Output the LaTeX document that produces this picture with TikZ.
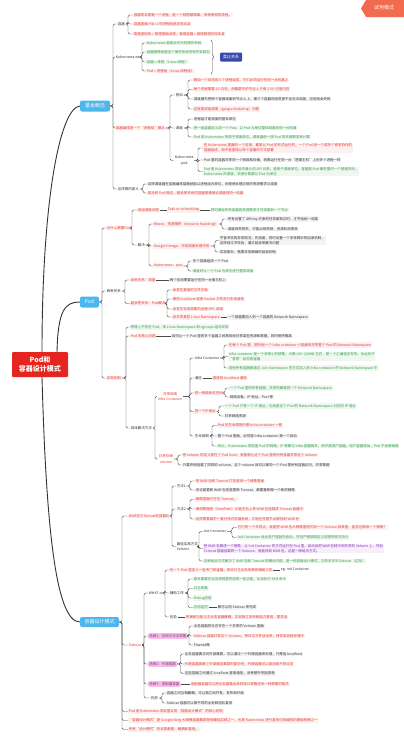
\documentclass[tikz,border=0pt]{standalone}
\usepackage{fontspec}
\newfontfamily\cjk{Noto Sans CJK SC}
\usetikzlibrary{decorations.pathreplacing}
\definecolor{myred}{HTML}{E8392E}
\definecolor{mygreen}{HTML}{2E9E44}
\definecolor{mydark}{HTML}{333333}
\definecolor{mypurple}{HTML}{8A2BB5}
\definecolor{redbg}{HTML}{FDF0F0}
\definecolor{greenbg}{HTML}{F0F7F0}
\definecolor{darkbg}{HTML}{F4F4F4}
\definecolor{purplebg}{HTML}{F6EEFA}
\definecolor{bluebox}{HTML}{4DB6EC}
\definecolor{rootred}{HTML}{E52620}
\definecolor{linec}{HTML}{4A4A4A}
\definecolor{pinkfill}{HTML}{F2C0E4}
\definecolor{pinktext}{HTML}{8E2C8E}
\definecolor{navy}{HTML}{3949AB}
\definecolor{badge}{HTML}{F26B4F}
\newcommand\fs{\cjk\fontsize{3.5pt}{5.2pt}\selectfont}
\newcommand\mytree[3]{\foreach \ch in {#3}{\draw[conn] (#1.east) -- (#2,0 |- #1.east) |- (\ch.west);}}
\newcommand\mylnk[2]{\draw[conn] (#1.east) -- (#2.west);}
\tikzset{
  base/.style={anchor=west, inner sep=0.7pt, font=\fs, align=left},
  rtx/.style={base, text=myred, fill=redbg},
  gtx/.style={base, text=mygreen, fill=greenbg},
  ktx/.style={base, text=mydark, fill=darkbg},
  ptx/.style={base, text=mypurple, fill=purplebg},
  lbl/.style={base, text=mydark},
  rlbl/.style={base, text=myred},
  pinkbox/.style={base, text=pinktext, fill=pinkfill, rounded corners=1pt, inner sep=1.2pt},
  mainbox/.style={fill=bluebox, text=white, font=\cjk\fontsize{5}{6}\selectfont, rounded corners=2pt, minimum height=11pt, inner sep=1pt},
  rootbox/.style={fill=rootred, text=white, font=\cjk\bfseries\fontsize{7}{9}\selectfont, minimum width=56pt, minimum height=25pt, align=center, rounded corners=1pt, inner sep=0pt},
  navybox/.style={fill=navy, text=white, font=\cjk\fontsize{4}{5}\selectfont, minimum width=22pt, minimum height=9pt, rounded corners=1pt, inner sep=0.5pt},
  conn/.style={draw=linec, line width=0.45pt, rounded corners=1.5pt},
  trunk/.style={draw=mydark, line width=0.9pt},
}
\begin{document}
\begin{tikzpicture}[x=1pt,y=-1pt]
\useasboundingbox (0,0) rectangle (404,744);
\fill[white] (0,0) rectangle (404,744);

% badge
\fill[badge] (366,0) -- (404,0) -- (404,17) -- (366,17) -- (361,8.5) -- cycle;
\node[font=\cjk\fontsize{5}{6}\selectfont, text=white, inner sep=0] (badgetxt) at (384,8) {试用模式};

% root and main branches
\node[rootbox] (root) at (40,364.5) {Pod和\\容器设计模式};
\node[mainbox, minimum width=30pt] (b1) at (95,106) {基本概念};
\node[mainbox, minimum width=19pt] (b2) at (89.5,302) {Pod};
\node[mainbox, minimum width=39pt, minimum height=10pt] (b3) at (99.5,622) {容器设计模式};
\draw[trunk] (root.north -| 42,0) .. controls (42,200) and (60,108) .. (b1.west);
\draw[trunk] (root.north -| 57,0) .. controls (58,310) and (65,302) .. (b2.west);
\draw[trunk] (root.south -| 42,0) .. controls (46,520) and (55,622) .. (b3.west);

% ===== 基本概念 =====
\node[lbl] (a1) at (117,24) {容器};
\node[rtx] (a11) at (133,15) {容器的本质是一个进程，是一个视图被隔离、资源受限的进程。};
\node[rtx] (a12) at (133,24) {容器里面 PID=1 的进程就是应用本身};
\node[rtx] (a13) at (133,34) {管理虚拟机 = 管理基础设施；管理容器 = 直接管理应用本身};
\mytree{a1}{128}{a11,a12,a13}

\node[lbl] (a2) at (115,57) {Kubernetes};
\node[gtx] (a21) at (146,43) {Kubernetes 就是云时代的操作系统};
\node[gtx] (a22) at (146,52) {容器镜像就是这个操作系统的软件安装包};
\node[gtx] (a23) at (146,62) {容器 = 进程（Linux 线程）};
\node[rtx] (a24) at (146,71) {Pod = 进程组（Linux 线程组）};
\mytree{a2}{142}{a21,a22,a23,a24}
\draw[linec, line width=0.45pt, decorate, decoration={brace, amplitude=2.5pt}] (211,40) -- (211,74);
\node[navybox] (a2b) at (231,57) {类比关系};

\node[rtx] (a3) at (115,128) {容器编排是一个“进程组”概念};
\node[lbl] (a31) at (175,95) {例如};
\node[rtx] (a311) at (193,80) {假如一个应用由三个进程组成，它们必须运行在同一台机器上};
\node[rtx] (a312) at (193,89.5) {每个进程需要 1G 内存，而集群中的节点 A 只有 2.5G 可用内存};
\node[ktx] (a313) at (193,99) {调度器先把两个容器调度到节点 A 上，第三个容器却因资源不足无法调度，应用就会失败};
\node[rtx] (a314) at (193,109) {这就是成组调度（gang scheduling）问题};
\mytree{a31}{188}{a311,a312,a313,a314}
\node[lbl] (a32) at (175,128) {调度};
\node[ktx] (a321) at (193,119) {进程组才是调度的基本单位};
\node[gtx] (a322) at (193,128) {把一组容器定义成一个 Pod，以 Pod 为单位整体调度到同一台机器};
\node[gtx] (a323) at (193,137) {Pod 是 Kubernetes 的原子调度单位，调度器统一按 Pod 的资源需求来计算};
\mytree{a32}{188}{a321,a322,a323}
\node[lbl, align=center] (a33) at (174,160.5) {Kubernetes\\pod};
\node[rtx] (a331) at (203,148) {在 Kubernetes 里面的一个应用，都是以 Pod 的形式运行的，一个 Pod 由一个或多个紧密协作的\\容器组成，而不是直接以单个容器的方式部署};
\node[ktx] (a332) at (203,160) {Pod 里的容器共享同一个网络和存储，就像运行在同一台“逻辑主机”上的多个进程一样};
\node[gtx] (a333) at (203,171.5) {Pod 是 Kubernetes 项目中最小的 API 对象，是原子调度单位；容器是 Pod 属性里的一个普通字段，\\Kubernetes 的调度、资源分配都以 Pod 为单位};
\mytree{a33}{198}{a331,a332,a333}
\mytree{a3}{170}{a31,a32,a33}

\node[lbl] (a4) at (117,189) {这样做的意义};
\node[ktx] (a41) at (147,184) {这样调度器在容器编排层面就能以进程组为单位，合理地处理应用的资源需求与调度};
\node[rtx] (a42) at (147,193) {若没有 Pod 概念，超亲密关系的容器很难保证调度到同一机器};
\mytree{a4}{143}{a41,a42}
\mytree{b1}{113}{a1,a2,a3,a4}

% ===== Pod =====
\node[rtx] (p1) at (106,228) {为什么需要Pod};
\node[rtx] (p11) at (137,210) {成组调度问题};
\node[rtx] (p111) at (167,210) {Task co-scheduling};
\node[gtx] (p112) at (210,210) {同时满足所有容器的资源需求才可调度到一个节点};
\mylnk{p11}{p111}
\mylnk{p111}{p112}
\node[lbl] (p12) at (137,245) {解决};
\node[rtx] (p121) at (153,224) {Mesos：资源囤积（resource hoarding）};
\node[ktx] (p1211) at (227,219) {所有设置了 Affinity 约束的任务都到达时，才开始统一调度};
\node[ktx] (p1212) at (227,229) {调度效率损失，可能出现死锁，资源利用率低};
\mytree{p121}{222}{p1211,p1212}
\node[rtx] (p122) at (153,246) {Google Omega：乐观调度处理冲突};
\node[ktx] (p1221) at (219,240.5) {不管冲突的异常情况，先调度，同时设置一个非常精妙的回滚机制，\\这样经过冲突后，通过回滚来解决问题};
\node[ktx] (p1222) at (219,252) {实现复杂，需要非常精细的回滚机制};
\mytree{p122}{215}{p1221,p1222}
\node[rtx] (p123) at (153,266) {Kubernetes：pod};
\node[ktx] (p1231) at (192,261) {多个容器组成一个 Pod};
\node[gtx] (p1232) at (192,271) {调度时以一个 Pod 为单位进行整体调度};
\mytree{p123}{188}{p1231,p1232}
\mytree{p12}{149}{p121,p122,p123}
\mytree{p1}{132}{p11,p12}

\node[lbl] (p2) at (106,291) {两种关系};
\node[rtx] (p21) at (130,280) {亲密关系：调度};
\node[ktx] (p211) at (169,280) {两个应用需要运行在同一台宿主机上};
\mylnk{p21}{p211}
\node[rtx] (p22) at (130,303.5) {超亲密关系：Pod解决};
\node[rtx] (p221) at (172,290) {会发生直接的文件交换};
\node[rtx] (p222) at (172,299) {使用 localhost 或者 Socket 文件进行本地通信};
\node[rtx] (p223) at (172,309) {会发生非常频繁的远程 RPC 调用};
\node[rtx] (p224) at (172,317) {会共享某些 Linux Namespace};
\node[ktx] (p2241) at (227,317) {一个容器要加入另一个容器的 Network Namespace};
\mylnk{p224}{p2241}
\mytree{p22}{167}{p221,p222,p223,p224}
\mytree{p2}{125}{p21,p22}

\node[rtx] (p3) at (106,378) {实现机制};
\node[gtx] (p31) at (130,327) {物理上不存在 Pod，由 Linux Namespace 和 cgroups 组合实现};
\node[rtx] (p32) at (130,336) {Pod 的核心问题};
\node[ktx] (p321) at (171,336) {如何让一个 Pod 里的多个容器之间高效地共享某些资源和数据，同时保持隔离};
\mylnk{p32}{p321}
\node[lbl] (p33) at (130,428) {具体解决方法};

\node[rlbl, align=center] (p331) at (157,396.5) {共享网络\\Infra Container};
\node[lbl] (q1) at (194,358) {Infra Container};
\node[rtx] (q11) at (228,345) {在每个 Pod 里，额外起一个 Infra container 小容器来共享整个 Pod 的 Network Namespace};
\node[gtx] (q12) at (228,356.5) {Infra container 是一个非常小的镜像，大概 100\textasciitilde200KB 左右，是一个汇编语言写的、永远处于\\“暂停”状态的容器};
\node[gtx] (q13) at (228,368) {其他所有容器都通过 Join Namespace 的方式加入到 Infra container 的 Network Namespace 中};
\mytree{q1}{224}{q11,q12,q13}
\node[lbl] (q2) at (194,378) {通信};
\node[rtx] (q21) at (212,378) {直接用 localhost 通信};
\mylnk{q2}{q21}
\node[rtx] (q3) at (194,393) {同一网络命名空间};
\node[gtx] (q31) at (229,388) {一个 Pod 里的所有容器，共享的都是同一个 Network Namespace};
\node[ktx] (q32) at (229,397) {网络设备、IP 地址、Port 等};
\mytree{q3}{225}{q31,q32}
\node[rtx] (q4) at (194,411.5) {同一个IP地址};
\node[gtx] (q41) at (224,406) {一个 Pod 只有一个 IP 地址，也就是这个 Pod 的 Network Namespace 对应的 IP 地址};
\node[ktx] (q42) at (224,416) {共享网络资源};
\mytree{q4}{219}{q41,q42}
\node[lbl] (q5) at (194,436) {生命周期};
\node[rtx] (q51) at (217,425.5) {Pod 的生命周期只跟 Infra container 一致};
\node[ktx] (q52) at (217,436) {整个 Pod 里面，必然是 Infra container 第一个启动};
\node[gtx] (q53) at (217,446) {所以，Kubernetes 项目里 Pod 的网络、IP 等都与 Infra 容器相关，而不是用户容器。用户容器退出，Pod 不会被销毁};
\mytree{q5}{212}{q51,q52,q53}
\mytree{p331}{190}{q1,q2,q3,q4,q5}

\node[rlbl, align=center] (p332) at (158,459) {共享存储\\volume};
\node[rtx] (r1) at (182,455) {把 volume 的定义放在了 Pod level，就能够让这个 Pod 里的所有容器共享这个 volume};
\node[ktx] (r2) at (182,465) {只要声明挂载了同样的 volume，这个 volume 就可以被同一个 Pod 里所有容器访问、共享数据};
\mytree{p332}{178}{r1,r2}
\mytree{p33}{155}{p331,p332}
\mytree{p3}{126}{p31,p32,p33}
\mytree{b2}{102}{p1,p2,p3}

% ===== 容器设计模式 =====
\node[rtx] (d1) at (128,516) {WAR包与Tomcat的容器化};
\node[lbl] (d11) at (176,486) {方法1};
\node[rtx] (d111) at (195,481) {把 WAR 包和 Tomcat 打包放进一个镜像里面};
\node[ktx] (d112) at (195,490) {无论是更新 WAR 包还是更新 Tomcat，都要重新做一个新的镜像};
\mytree{d11}{190}{d111,d112}
\node[lbl] (d12) at (176,509) {方法2};
\node[rtx] (d121) at (195,499.5) {镜像里面只打包 Tomcat。};
\node[rtx] (d122) at (195,509) {使用数据卷（hostPath）从宿主机上将 WAR 包挂载进 Tomcat 容器中};
\node[rtx] (d123) at (195,519) {这样需要维护一套分布式存储系统，才能在任意节点都找到 WAR 包};
\mytree{d12}{190}{d121,d122,d123}
\node[lbl] (d13) at (176,546.5) {最佳实践方式\\Volume};
\node[lbl] (d131) at (203,531.5) {Init Container};
\node[rtx] (d1311) at (237,527.5) {它们有一个共同点，就是把 WAR 包从镜像里拷贝到一个 Volume 目录里，能否也做成一个镜像？};
\node[gtx] (d1312) at (237,537.5) {Init Container 会比用户容器先启动，并且严格按照定义的顺序依次执行};
\mytree{d131}{232}{d1311,d1312}
\node[ptx] (d132) at (203,548.5) {把 WAR 包做成一个镜像，以 Init Container 的方式运行在 Pod 里，启动后把 WAR 包拷贝到共享的 Volume 上，然后\\Tomcat 容器挂载同一个 Volume，就能找到 WAR 包，这是一种组合方式。};
\node[gtx] (d133) at (203,561) {这种组合方式解决了 WAR 包和 Tomcat 的耦合问题，是一种容器设计模式，它的名字叫 Sidecar（边车）};
\mytree{d13}{199}{d131,d132,d133}
\mytree{d1}{172}{d11,d12,d13}

\node[rlbl] (d2) at (128,645) {Sidecar};
\node[lbl] (d21) at (148,593) {WHAT};
\node[rtx] (d211) at (169,570) {在一个 Pod 里定义一些专门的容器，来执行主业务所需的辅助工作};
\node[lbl] (d2111) at (280,570) {eg: init Container};
\mylnk{d211}{d2111}
\node[lbl] (d212) at (169,593) {辅助工作};
\node[gtx] (d2121) at (193,579) {原本需要在业务进程里完成的一些功能，比如执行 SSH 命令};
\node[gtx] (d2122) at (193,588.5) {日志收集};
\node[gtx] (d2123) at (193,598) {Debug应用};
\node[gtx] (d2124) at (193,607.5) {应用监控};
\node[ktx] (d2125) at (217,607.5) {都可以用 Sidecar 来完成};
\mylnk{d2124}{d2125}
\mytree{d212}{188}{d2121,d2122,d2123,d2124}
\node[lbl] (d213) at (169,617) {优势};
\node[rtx] (d2131) at (185,617) {将辅助功能与主业务容器解耦，实现独立发布和能力重用，更灵活};
\mylnk{d213}{d2131}
\mytree{d21}{165}{d211,d212,d213}

\node[pinkbox] (d22) at (148,636) {场景1：应用与日志收集};
\node[ktx] (d221) at (193,626) {业务容器将日志写在一个共享的 Volume 里面};
\node[rtx] (d222) at (193,636) {Sidecar 容器共享这个 Volume，把日志文件读出来，转存到远程存储中};
\node[ktx] (d223) at (193,645) {Fluentd等};
\mytree{d22}{189}{d221,d222,d223}
\node[pinkbox] (d23) at (148,664) {场景2：代理容器};
\node[ktx] (d231) at (184,654) {业务容器要访问外部集群，可以通过一个代理容器来处理，只需连 localhost};
\node[rtx] (d232) at (184,664) {代理容器屏蔽了外部服务集群的复杂性，代理容器可以复用给不同业务};
\node[ktx] (d233) at (184,673.5) {这些容器之间通过 localhost 直接通信，没有额外性能损耗};
\mytree{d23}{180.5}{d231,d232,d233}
\node[pinkbox] (d24) at (148,684) {场景3：适配器容器};
\node[rtx] (d241) at (190,684) {适配器容器可以把业务暴露出来的接口转换成另一种需要的格式};
\mylnk{d24}{d241}
\node[lbl] (d25) at (150,698) {优势};
\node[ktx] (d251) at (166,693) {容器之间互相解耦，可以独立地开发、发布和升级};
\node[ktx] (d252) at (166,703) {Sidecar 容器可以被不同的业务和团队复用};
\mytree{d25}{162}{d251,d252}
\mytree{d2}{144}{d21,d22,d23,d24,d25}

\node[rtx] (d3) at (128,711.5) {Pod 是 Kubernetes 项目里实现“容器设计模式”的核心机制};
\node[rtx] (d4) at (128,720.5) {“容器设计模式”是 Google Borg 大规模容器集群管理最佳实践之一，也是 Kubernetes 进行复杂应用编排的基础依赖之一};
\node[rtx] (d5) at (128,729.5) {所有“设计模式”的本质都是：解耦和重用。};
\mytree{b3}{122}{d1,d2,d3,d4,d5}
\end{tikzpicture}
\end{document}
